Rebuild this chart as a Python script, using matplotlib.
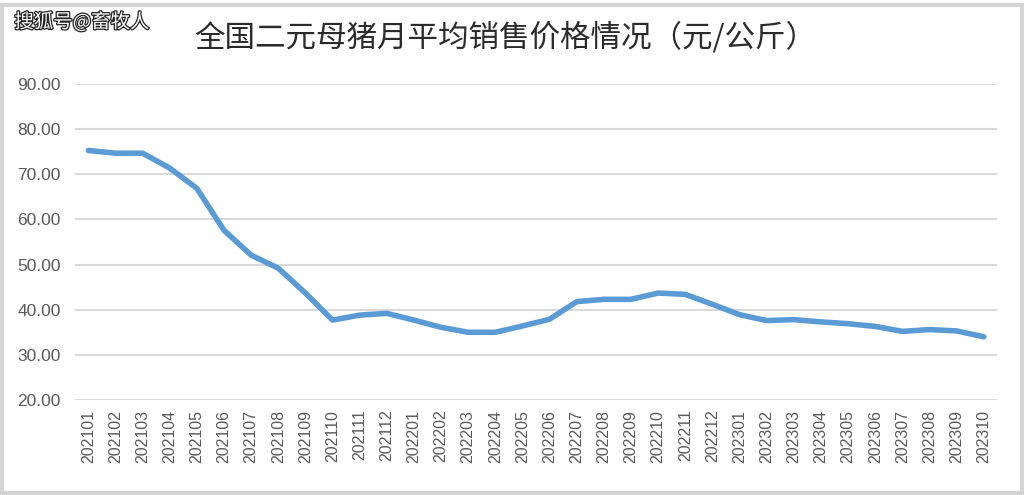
import matplotlib.pyplot as plt
import matplotlib.patheffects as pe
from matplotlib.patches import Rectangle

plt.rcParams['font.family'] = ['Noto Sans CJK SC', 'DejaVu Sans']

months = ["202101", "202102", "202103", "202104", "202105", "202106", "202107",
          "202108", "202109", "202110", "202111", "202112", "202201", "202202",
          "202203", "202204", "202205", "202206", "202207", "202208", "202209",
          "202210", "202211", "202212", "202301", "202302", "202303", "202304",
          "202305", "202306", "202307", "202308", "202309", "202310"]
prices = [75.3, 74.7, 74.7, 71.4, 66.9, 57.6, 52.1, 49.2, 43.7, 37.7, 38.8, 39.2,
          37.7, 36.1, 35.0, 35.0, 36.4, 37.9, 41.8, 42.3, 42.3, 43.7, 43.4, 41.2,
          38.9, 37.6, 37.8, 37.3, 36.9, 36.3, 35.2, 35.6, 35.3, 34.0]
yticks = [20, 30, 40, 50, 60, 70, 80, 90]

fig = plt.figure(figsize=(10.24, 4.95), dpi=100)
ax = fig.add_axes([0.073, 0.192, 0.901, 0.638])

x = list(range(len(months)))
ax.plot(x, prices, color="#5b9bd5", linewidth=4, solid_capstyle="round",
        solid_joinstyle="round", zorder=3)

ax.set_xlim(-0.5, len(months) - 0.5)
ax.set_ylim(20, 90)
ax.set_yticks(yticks)
ax.set_yticklabels([f"{v:.2f}" for v in yticks], fontsize=12.5, color="#595959",
                   family=["Liberation Sans", "DejaVu Sans"])
ax.set_xticks(x)
ax.set_xticklabels(months, rotation=90, fontsize=11.5, color="#595959",
                   family=["Liberation Sans", "DejaVu Sans"])
ax.tick_params(length=0, pad=7)
ax.tick_params(axis="y", pad=10)
ax.grid(axis="y", color="#d9d9d9", linewidth=1.5)
ax.set_axisbelow(True)
for s in ax.spines.values():
    s.set_visible(False)

fig.text(0.493, 0.923, "全国二元母猪月平均销售价格情况（元/公斤）", ha="center", va="center",
         fontsize=22, color="#2b2b2b", fontweight="medium")
fig.text(0.014, 0.955, "搜狐号@畜牧人", ha="left", va="center", fontsize=14,
         color="white",
         path_effects=[pe.withStroke(linewidth=1.8, foreground="#222222")])

fig.patches.append(Rectangle((0.002, 0.004), 0.996, 0.986, transform=fig.transFigure,
                             fill=False, edgecolor="#d4d4d4", linewidth=3))

fig.savefig("out.png", dpi=100)
